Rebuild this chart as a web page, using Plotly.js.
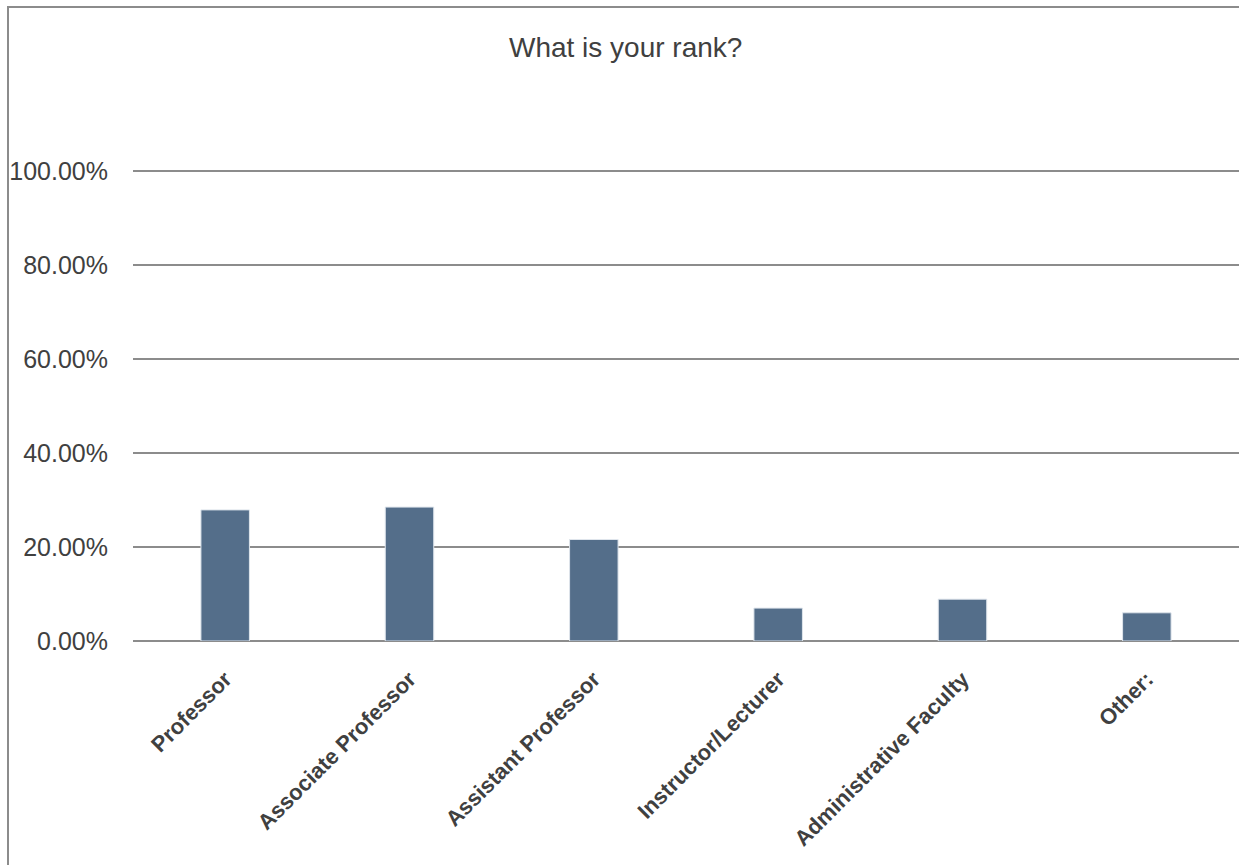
<!DOCTYPE html>
<html>
<head>
<meta charset="utf-8">
<script src="https://cdn.plot.ly/plotly-3.0.1.min.js"></script>
<style>
  html, body { margin: 0; padding: 0; background: #fff; }
  #wrap { position: relative; width: 1239px; height: 865px; overflow: hidden; }
  #chart { width: 1239px; height: 865px; }
  #frame { position: absolute; left: 7px; top: 6px; width: 1300px; height: 900px;
           border-left: 2px solid #8c8c8c; border-top: 2px solid #8c8c8c; pointer-events: none; }
</style>
</head>
<body>
<div id="wrap">
  <div id="chart"></div>
  <div id="frame"></div>
</div>
<script>
const categories = ["Professor", "Associate Professor", "Assistant Professor", "Instructor/Lecturer", "Administrative Faculty", "Other:"];
const shares = [0.279, 0.285, 0.216, 0.070, 0.089, 0.060];
const yTickValues = [0, 0.2, 0.4, 0.6, 0.8, 1.0];
const yTickLabels = ["0.00%", "20.00%", "40.00%", "60.00%", "80.00%", "100.00%"];
const chartTitle = "What is your rank?";

const trace = {
  type: "bar",
  x: categories,
  y: shares,
  marker: { color: "#546e8a", line: { color: "#dfe5ec", width: 1 } },
  hoverinfo: "x+y"
};

const layout = {
  width: 1239,
  height: 865,
  margin: { l: 133, r: 0, t: 157, b: 224 },
  paper_bgcolor: "#ffffff",
  plot_bgcolor: "#ffffff",
  showlegend: false,
  bargap: 0.737,
  font: { family: "Liberation Sans, Arial, sans-serif", color: "#404040" },
  title: {
    text: chartTitle,
    x: 0.505, xref: "container", xanchor: "center",
    y: 1 - 47 / 865, yref: "container", yanchor: "middle",
    font: { family: "Liberation Sans, Arial, sans-serif", size: 28, color: "#404040" }
  },
  xaxis: {
    type: "category",
    tickangle: -45,
    tickfont: { family: "Liberation Sans, Arial, sans-serif", size: 22, color: "#404040", weight: "bold" },
    showgrid: false,
    showline: false,
    zeroline: false,
    ticks: "",
    ticklabelstandoff: 20
  },
  yaxis: {
    range: [0, 1.03],
    tickvals: yTickValues,
    ticktext: yTickLabels,
    tickfont: { family: "Liberation Sans, Arial, sans-serif", size: 25, color: "#404040" },
    showgrid: true,
    gridcolor: "#8c8c8c",
    gridwidth: 2,
    zeroline: true,
    zerolinecolor: "#8c8c8c",
    zerolinewidth: 2,
    showline: false,
    ticks: "",
    ticklabelstandoff: 24,
    fixedrange: true
  }
};

Plotly.newPlot("chart", [trace], layout, { displayModeBar: false, staticPlot: true });
</script>
</body>
</html>
